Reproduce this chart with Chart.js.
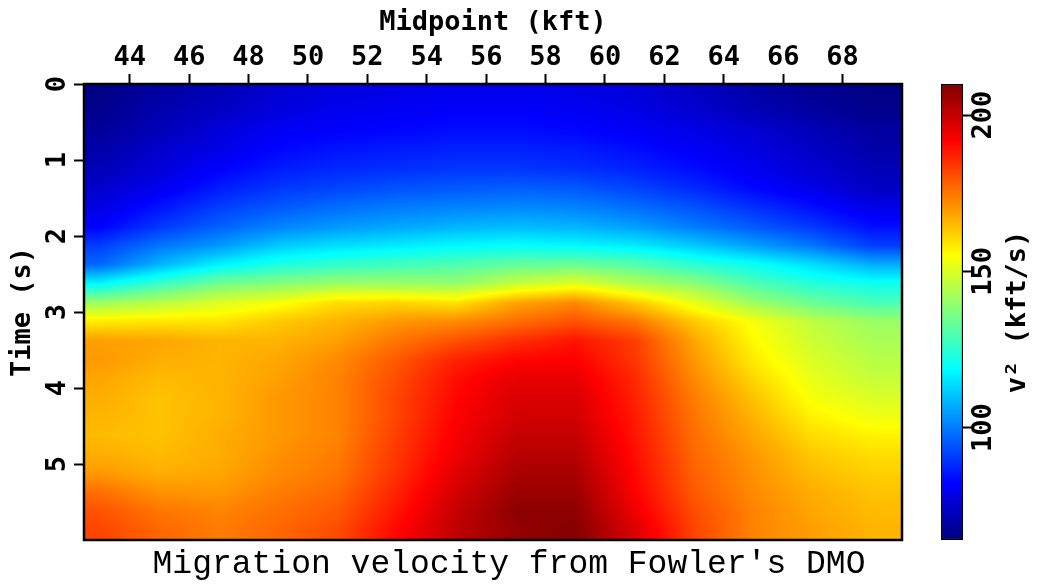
<!DOCTYPE html>
<html>
<head>
    <title>Migration velocity from Fowler's DMO</title>
    <script src="https://cdn.jsdelivr.net/npm/chart.js"></script>
    <style>
        body { margin: 0; background: #fff; }
        #wrap { position: relative; width: 1038px; height: 586px; }
        #mainChart { position: absolute; left: 0; top: 0; }
        #barChart { position: absolute; left: 900px; top: 0; }
    </style>
</head>
<body>
    <div id="wrap">
        <canvas id="mainChart" width="1018" height="586"></canvas>
        <canvas id="barChart" width="138" height="586"></canvas>
    </div>

    <script>
        // cell centres of the velocity grid
        const midpoints = [43, 45, 47, 49, 51, 53, 55, 57, 59, 61, 63, 65, 67, 69];
        const times = [0.125, 0.375, 0.625, 0.875, 1.125, 1.375, 1.625, 1.875, 2.125, 2.375, 2.625, 2.875,
                       3.125, 3.375, 3.625, 3.875, 4.125, 4.375, 4.625, 4.875, 5.125, 5.375, 5.625, 5.875];

        // v^2 (kft/s), one row per time, one column per midpoint
        const v2 = [
            [65, 69, 72, 76, 78, 79, 80, 80, 79, 77, 74, 70, 67, 65],
            [66, 71, 74, 78, 80, 81, 82, 82, 81, 79, 76, 72, 69, 66],
            [68, 72, 77, 81, 82, 83, 84, 84, 83, 81, 79, 76, 72, 69],
            [70, 75, 79, 83, 85, 86, 87, 87, 86, 84, 81, 78, 74, 70],
            [72, 77, 82, 86, 88, 89, 90, 90, 89, 87, 84, 80, 76, 72],
            [75, 80, 86, 90, 92, 94, 95, 96, 95, 92, 88, 83, 79, 74],
            [78, 85, 91, 95, 98, 100, 101, 102, 101, 98, 94, 89, 84, 79],
            [82, 90, 96, 101, 104, 106, 108, 109, 108, 105, 100, 95, 90, 84],
            [91, 99, 104, 111, 114, 116, 118, 119, 118, 116, 111, 105, 99, 91],
            [97, 108, 117, 123, 126, 128, 130, 133, 134, 131, 125, 120, 114, 107],
            [118, 127, 135, 138, 141, 141, 140, 147, 151, 144, 139, 130, 124, 121],
            [141, 145, 150, 154, 160, 161, 159, 168, 172, 163, 152, 141, 134, 129],
            [158, 159, 159, 163, 166, 170, 172, 176, 180, 175, 163, 154, 146, 141],
            [169, 168, 166, 166, 169, 175, 180, 185, 189, 183, 168, 156, 148, 143],
            [170, 167, 166, 168, 172, 179, 187, 191, 192, 184, 170, 158, 150, 145],
            [168, 165, 166, 169, 173, 181, 190, 195, 195, 186, 172, 161, 152, 147],
            [167, 164, 166, 170, 173, 182, 191, 197, 197, 187, 174, 164, 154, 150],
            [166, 164, 166, 170, 173, 182, 192, 198, 198, 188, 175, 166, 157, 153],
            [165, 164, 167, 170, 173, 183, 193, 200, 200, 189, 176, 168, 160, 157],
            [167, 165, 167, 171, 174, 184, 194, 202, 202, 190, 177, 170, 163, 160],
            [170, 167, 168, 172, 175, 185, 196, 204, 204, 191, 178, 171, 165, 162],
            [176, 171, 170, 174, 177, 187, 198, 206, 206, 192, 179, 172, 167, 164],
            [180, 175, 173, 176, 179, 189, 200, 208, 208, 194, 181, 173, 168, 165],
            [182, 177, 174, 177, 181, 191, 201, 207, 209, 197, 182, 173, 169, 166]
        ];

        const midpointTicks = [44, 46, 48, 50, 52, 54, 56, 58, 60, 62, 64, 66, 68];
        const timeTicks = [0, 1, 2, 3, 4, 5];
        const v2Ticks = [100, 150, 200];

        const V_MIN = 64;
        const V_MAX = 210;

        const axisFont = { family: '"DejaVu Sans Mono", monospace', size: 27, weight: 'bold' };

        function clamp01(a) {
            return Math.min(1, Math.max(0, a));
        }

        function jet(v) {
            const f = clamp01((v - V_MIN) / (V_MAX - V_MIN));
            return [
                255 * clamp01(Math.min(4 * f - 1.5, -4 * f + 4.5)),
                255 * clamp01(Math.min(4 * f - 0.5, -4 * f + 3.5)),
                255 * clamp01(Math.min(4 * f + 0.5, -4 * f + 2.5))
            ];
        }

        function fracIndex(arr, v) {
            const last = arr.length - 1;
            if (v <= arr[0]) return 0;
            if (v >= arr[last]) return last;
            let k = 0;
            while (arr[k + 1] < v) k++;
            return k + (v - arr[k]) / (arr[k + 1] - arr[k]);
        }

        function sample(r, c) {
            const r0 = Math.floor(r), c0 = Math.floor(c);
            const r1 = Math.min(r0 + 1, times.length - 1), c1 = Math.min(c0 + 1, midpoints.length - 1);
            const fr = r - r0, fc = c - c0;
            const top = v2[r0][c0] * (1 - fc) + v2[r0][c1] * fc;
            const bot = v2[r1][c0] * (1 - fc) + v2[r1][c1] * fc;
            return top * (1 - fr) + bot * fr;
        }

        const heatmapPlugin = {
            id: 'heatmap',
            beforeDatasetsDraw(chart) {
                const { ctx, chartArea: a, scales: { x, y } } = chart;
                const w = Math.round(a.right - a.left);
                const h = Math.round(a.bottom - a.top);
                const off = document.createElement('canvas');
                off.width = w;
                off.height = h;
                const octx = off.getContext('2d');
                const img = octx.createImageData(w, h);
                const cols = [];
                for (let i = 0; i < w; i++) {
                    cols.push(fracIndex(midpoints, x.getValueForPixel(a.left + i + 0.5)));
                }
                for (let j = 0; j < h; j++) {
                    const r = fracIndex(times, y.getValueForPixel(a.top + j + 0.5));
                    for (let i = 0; i < w; i++) {
                        const rgb = jet(sample(r, cols[i]));
                        const p = (j * w + i) * 4;
                        img.data[p] = rgb[0];
                        img.data[p + 1] = rgb[1];
                        img.data[p + 2] = rgb[2];
                        img.data[p + 3] = 255;
                    }
                }
                octx.putImageData(img, 0, 0);
                ctx.drawImage(off, a.left, a.top);
            },
            afterDatasetsDraw(chart) {
                const { ctx, chartArea: a } = chart;
                ctx.save();
                ctx.strokeStyle = '#000';
                ctx.lineWidth = 2.5;
                ctx.strokeRect(a.left, a.top, a.right - a.left, a.bottom - a.top);
                ctx.restore();
            }
        };

        const tickGrid = { drawOnChartArea: false, drawTicks: true, tickLength: 10, tickWidth: 2, tickColor: '#000' };

        new Chart(document.getElementById('mainChart'), {
            type: 'scatter',
            data: { datasets: [{ data: [] }] },
            options: {
                responsive: false,
                animation: false,
                layout: { padding: 0 },
                plugins: {
                    legend: { display: false },
                    tooltip: { enabled: false },
                    title: {
                        display: true,
                        position: 'bottom',
                        text: "Migration velocity from Fowler's DMO",
                        color: '#000',
                        font: { family: '"Liberation Mono", monospace', size: 33, weight: 'normal', lineHeight: 1 },
                        padding: { top: 8, bottom: 5 }
                    }
                },
                scales: {
                    x: {
                        type: 'linear',
                        position: 'top',
                        min: 42.46,
                        max: 70,
                        afterBuildTicks: s => { s.ticks = midpointTicks.map(v => ({ value: v })); },
                        afterFit: s => { s.height = 84; },
                        grid: tickGrid,
                        border: { display: false },
                        ticks: { font: axisFont, color: '#000', padding: 0, minRotation: 0, maxRotation: 0, autoSkip: false },
                        title: { display: true, text: 'Midpoint (kft)', font: axisFont, color: '#000', padding: { top: 7, bottom: 0 } }
                    },
                    y: {
                        type: 'linear',
                        position: 'left',
                        reverse: true,
                        min: 0,
                        max: 6,
                        afterBuildTicks: s => { s.ticks = timeTicks.map(v => ({ value: v })); },
                        afterFit: s => { s.width = 84; },
                        grid: tickGrid,
                        border: { display: false },
                        ticks: { font: axisFont, color: '#000', padding: 8, minRotation: 90, maxRotation: 90, crossAlign: 'center', autoSkip: false },
                        title: { display: true, text: 'Time (s)', font: axisFont, color: '#000', padding: { top: 7, bottom: 0 } }
                    },
                    yr: {
                        type: 'linear',
                        position: 'right',
                        min: 0,
                        max: 6,
                        grid: { display: false },
                        border: { display: false },
                        ticks: { display: false },
                        afterFit: s => { s.width = 116; }
                    }
                }
            },
            plugins: [heatmapPlugin]
        });

        function jetGradient(chart) {
            const { chartArea, scales } = chart;
            if (!chartArea) return '#000';
            const y = scales.y;
            const g = chart.ctx.createLinearGradient(0, y.getPixelForValue(V_MIN), 0, y.getPixelForValue(V_MAX));
            for (let k = 0; k <= 16; k++) {
                const f = k / 16;
                const c = jet(V_MIN + f * (V_MAX - V_MIN));
                g.addColorStop(f, 'rgb(' + c.map(Math.round).join(',') + ')');
            }
            return g;
        }

        const colorbarTitle = {
            id: 'colorbarTitle',
            afterDraw(chart) {
                const { ctx, chartArea: a } = chart;
                ctx.save();
                ctx.translate(a.right + 55, (a.top + a.bottom) / 2);
                ctx.rotate(-Math.PI / 2);
                ctx.font = 'bold 27px "DejaVu Sans Mono", monospace';
                ctx.textAlign = 'center';
                ctx.textBaseline = 'middle';
                ctx.fillStyle = '#000';
                ctx.fillText('v\u00b2 (kft/s)', 0, 0);
                ctx.restore();
            }
        };

        new Chart(document.getElementById('barChart'), {
            type: 'bar',
            data: {
                labels: [''],
                datasets: [{
                    data: [[V_MIN, V_MAX]],
                    backgroundColor: ctx => jetGradient(ctx.chart),
                    borderColor: '#000',
                    borderWidth: 1.5,
                    borderSkipped: false,
                    barPercentage: 1,
                    categoryPercentage: 1
                }]
            },
            options: {
                responsive: false,
                animation: false,
                layout: { padding: { left: 41, top: 84, bottom: 46, right: 0 } },
                plugins: {
                    legend: { display: false },
                    tooltip: { enabled: false }
                },
                scales: {
                    x: { display: false },
                    y: {
                        position: 'right',
                        min: V_MIN,
                        max: V_MAX,
                        afterBuildTicks: s => { s.ticks = v2Ticks.map(v => ({ value: v })); },
                        afterFit: s => { s.width = 75; },
                        grid: { drawOnChartArea: false, drawTicks: true, tickLength: 9, tickWidth: 2, tickColor: '#000' },
                        border: { display: false },
                        ticks: { font: axisFont, color: '#000', padding: -12, minRotation: 90, maxRotation: 90, crossAlign: 'center', autoSkip: false }
                    }
                }
            },
            plugins: [colorbarTitle]
        });
    </script>
</body>
</html>
